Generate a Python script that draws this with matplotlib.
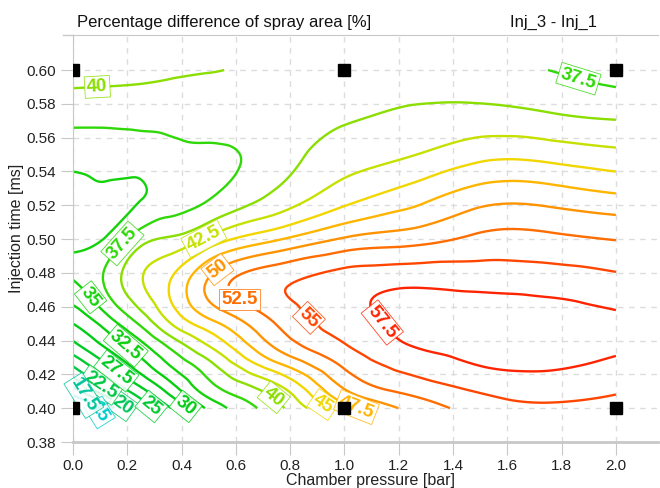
import numpy as np
import matplotlib
matplotlib.use('Agg')
import matplotlib.pyplot as plt
import matplotlib.tri as mtri

plt.rcParams['font.family'] = ['Liberation Sans', 'DejaVu Sans']

# chamber pressure [bar] and injection time [ms] of the read-off grid
pressure = [0.0, 0.125, 0.25, 0.375, 0.5, 0.75, 1.0, 1.25, 1.5, 1.75, 2.0]
inj_time = [0.40, 0.4125, 0.425, 0.4375, 0.45, 0.475, 0.50, 0.525, 0.55, 0.575, 0.60]

# percentage difference of spray area, one row per injection time
diff_area = [
    [10.0, 16.0, 22.9, 28.0, 33.0, 39.2, 46.3, 50.75, 53.6, 54.5, 54.1],
    [17.5, 22.9, 27.5, 32.2, 36.7, 41.9, 50.3, 53.7, 55.6, 56.3, 55.5],
    [22.6, 27.2, 31.3, 35.5, 39.1, 46.6, 52.8, 55.9, 57.5, 57.8, 56.9],
    [26.9, 30.6, 34.4, 38.8, 42.7, 50.6, 54.9, 57.6, 58.4, 58.6, 58.0],
    [30.0, 33.6, 37.95, 43.0, 46.5, 52.6, 56.2, 58.2, 58.8, 58.6, 58.0],
    [34.9, 38.0, 42.3, 45.6, 50.3, 54.5, 56.3, 57.0, 56.7, 56.4, 55.7],
    [34.4, 35.3, 39.0, 40.5, 43.1, 47.2, 50.3, 51.5, 53.1, 53.1, 52.4],
    [34.4, 34.6, 34.9, 36.2, 37.3, 40.6, 44.0, 46.4, 48.9, 48.95, 47.9],
    [35.8, 35.9, 36.2, 36.9, 37.1, 38.8, 41.2, 42.4, 44.2, 44.1, 43.2],
    [38.5, 38.5, 38.5, 38.4, 38.6, 39.0, 39.6, 40.3, 40.6, 40.0, 39.4],
    [41.1, 40.9, 40.7, 40.4, 40.1, 39.5, 38.9, 38.2, 37.9, 37.5, 36.3],
]

levels = [15, 17.5, 20, 22.5, 25, 27.5, 30, 32.5, 35, 37.5,
          40, 42.5, 45, 47.5, 50, 52.5, 55, 57.5]
level_colors = ['#00cccc', '#00c49a', '#00c65a', '#00c845', '#00ca32', '#00cb22',
                '#00cc14', '#08cf0c', '#14d20a', '#30d808', '#8ade00', '#c6e000',
                '#f2d600', '#ffb400', '#ff9200', '#ff6c00', '#ff4600', '#ff2400']

# measured operating points
meas_p = [0.0, 1.0, 2.0, 0.0, 1.0, 2.0]
meas_t = [0.40, 0.40, 0.40, 0.60, 0.60, 0.60]

# where the contour labels sit
label_spots = {
    20: [(0.188, 0.403)],
    22.5: [(0.135, 0.421)], 25: [(0.30, 0.403)], 27.5: [(0.19, 0.4274)],
    30: [(0.42, 0.402)], 32.5: [(0.21, 0.4395)], 35: [(0.088, 0.468)],
    37.5: [(1.86, 0.594), (0.147, 0.502)], 40: [(0.09, 0.589), (0.726, 0.404)],
    42.5: [(0.468, 0.504)], 45: [(0.917, 0.401)], 47.5: [(1.045, 0.401)],
    50: [(0.512, 0.486)], 52.5: [(0.626, 0.467)], 55: [(0.873, 0.454)],
    57.5: [(1.142, 0.451)],
}
# labels squeezed into the corner, placed by hand
corner_labels = [(15, 0.098, 0.3975), (17.5, 0.04, 0.4075)]
flat_labels = ['52.5']

# smooth surface through the grid
P, T = np.meshgrid(pressure, inj_time)
p0, p1 = min(pressure), max(pressure)
t0, t1 = min(inj_time), max(inj_time)
u = ((P - p0) / (p1 - p0)).ravel()
v = ((T - t0) / (t1 - t0)).ravel()
nx, ny = len(pressure), len(inj_time)
tris = []
for j in range(ny - 1):
    for i in range(nx - 1):
        a = j * nx + i
        tris.append([a, a + 1, a + nx + 1])
        tris.append([a, a + nx + 1, a + nx])
tri = mtri.Triangulation(u, v, tris)
interp = mtri.CubicTriInterpolator(tri, np.array(diff_area).ravel(), kind='min_E')
uf, vf = np.meshgrid(np.linspace(0, 1, 321), np.linspace(0, 1, 321))
zf = interp(uf, vf)
xf = p0 + uf * (p1 - p0)
yf = t0 + vf * (t1 - t0)

fig = plt.figure(figsize=(6.6, 4.88), dpi=100)
ax = fig.add_axes([73 / 660, 1 - 442 / 488, 585 / 660, 407 / 488])

for lev, col in zip(levels, level_colors):
    cs = ax.contour(xf, yf, zf, levels=[lev], colors=[col], linewidths=1.7)
    if len(cs.allsegs[0]) and lev in label_spots:
        ax.clabel(cs, manual=label_spots[lev], inline=True, inline_spacing=3,
                  fontsize=13.5, fmt=lambda val: f'{val:g}')

for k, (lev, lx, ly) in enumerate(corner_labels):
    ax.text(lx, ly, f'{lev:g}', color=level_colors[levels.index(lev)],
            fontsize=13.5, rotation=-58, ha='center', va='center',
            zorder=4.5 + 0.1 * k, clip_on=False)

for t in ax.texts:
    t.set_fontweight('bold')
    if t.get_text() in flat_labels:
        t.set_rotation(0)
    t.set_bbox(dict(boxstyle='square,pad=0.12', fc='white', ec=t.get_color(),
                    lw=0.6, alpha=0.85))

ax.plot(meas_p, meas_t, 's', color='black', ms=9, zorder=10)

ax.set_xlim(0, 2.155)
ax.set_ylim(0.38, 0.6207)
ax.set_xticks(np.arange(0, 2.01, 0.2))
ax.set_xticklabels([f'{v:.1f}' for v in np.arange(0, 2.01, 0.2)])
ax.set_yticks(np.arange(0.38, 0.601, 0.02))
ax.set_yticklabels([f'{v:.2f}' for v in np.arange(0.38, 0.601, 0.02)])
ax.grid(True, ls=(0, (4, 4)), color='#dcdcdc', lw=1)
ax.set_axisbelow(True)
ax.tick_params(length=9, color='#c8c8c8', labelsize=11, labelcolor='#222222', pad=3)
ax.spines['right'].set_visible(False)
for s in ['left', 'top', 'bottom']:
    ax.spines[s].set_color('#c8c8c8')
ax.spines['bottom'].set_linewidth(2)
ax.plot([-0.037, 0], [0.6207, 0.6207], color='#c8c8c8', lw=1, clip_on=False)

fig.text(77 / 660, 1 - 22 / 488, 'Percentage difference of spray area [%]',
         fontsize=12, va='center', ha='left', color='#111111')
fig.text(597 / 660, 1 - 22 / 488, 'Inj_3 - Inj_1', fontsize=12, va='center',
         ha='right', color='#111111')
fig.text(371 / 660, 1 - 480 / 488, 'Chamber pressure [bar]', fontsize=11.5,
         va='center', ha='center', color='#222222')
fig.text(17 / 660, 1 - 228 / 488, 'Injection time [ms]', fontsize=11.5,
         va='center', ha='center', rotation=90, color='#222222')

fig.savefig('out.png', dpi=100)
